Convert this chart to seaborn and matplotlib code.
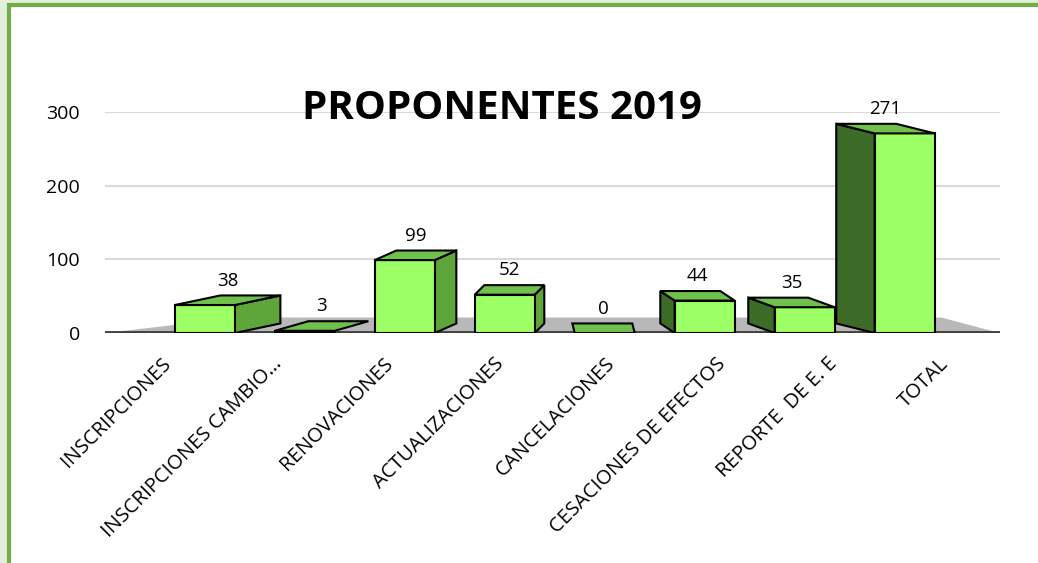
import matplotlib
matplotlib.use("Agg")
import matplotlib.pyplot as plt
from matplotlib.patches import Polygon, Rectangle
from matplotlib.transforms import ScaledTranslation
import seaborn as sns
import pandas as pd

# datos del grafico
categorias = ["INSCRIPCIONES", "INSCRIPCIONES CAMBIO…", "RENOVACIONES",
              "ACTUALIZACIONES", "CANCELACIONES", "CESACIONES DE EFECTOS",
              "REPORTE  DE E. E", "TOTAL"]
valores = [38, 3, 99, 52, 0, 44, 35, 271]
titulo = "PROPONENTES 2019"

df = pd.DataFrame({"categoria": categorias, "valor": valores})

sns.set_theme(style="white")
plt.rcParams["font.family"] = ["Open Sans", "DejaVu Sans"]

fig = plt.figure(figsize=(10.38, 5.63), dpi=100)
# marco verde del documento
fig.patches.append(Rectangle((0, 0), 1, 1, transform=fig.transFigure,
                             facecolor="#E2EFDA", edgecolor="none", zorder=-3))
fig.patches.append(Rectangle((0.0087, -0.1), 1.1, 1.091, transform=fig.transFigure,
                             facecolor="white", edgecolor="#70AD47", lw=3, zorder=-2))

ax = fig.add_axes([0.101, 0.4085, 0.862, 0.3925])
ax.set_facecolor("none")

frente = "#9CFF66"
arriba = "#70C04C"
lado_der = "#5EA63A"
lado_izq = "#3D6B28"

sns.barplot(data=df, x="categoria", y="valor", color=frente, width=0.6,
            edgecolor="black", linewidth=1.5, saturation=1, ax=ax, zorder=3)

ax.set_xlim(-1, 7.95)
ax.set_ylim(0, 300)
ax.set_yticks([0, 100, 200, 300])
ax.yaxis.grid(True, color="#D9D9D9", lw=1.5)
ax.set_axisbelow(True)
for s in ax.spines.values():
    s.set_visible(False)
ax.set_xlabel("")
ax.set_ylabel("")

# piso gris
piso = Polygon([(0, 0), (1, 0), (0.935, 0.07), (0.15, 0.07)], closed=True,
               transform=ax.transAxes, facecolor="#B8B8B8", edgecolor="none", zorder=1.5)
ax.add_patch(piso)
ax.axhline(0, color="#404040", lw=3.5, zorder=2)

# caras laterales y superiores (efecto 3D)
dy = 13
for i, p in enumerate(ax.patches[:len(valores)]):
    x0, w, h = p.get_x(), p.get_width(), p.get_height()
    dx = -0.12 * (i - 3.8)
    top = [(x0, h), (x0 + w, h), (x0 + w + dx, h + dy), (x0 + dx, h + dy)]
    ax.add_patch(Polygon(top, closed=True, facecolor=arriba, edgecolor="black",
                         lw=1.5, zorder=4))
    if h > 4:
        if dx > 0:
            side = [(x0 + w, 0), (x0 + w + dx, dy), (x0 + w + dx, h + dy), (x0 + w, h)]
            col = lado_der
        else:
            side = [(x0, 0), (x0 + dx, dy), (x0 + dx, h + dy), (x0, h)]
            col = lado_izq
        ax.add_patch(Polygon(side, closed=True, facecolor=col, edgecolor="black",
                             lw=1.5, zorder=2.5))
    ax.text(x0 + w / 2 + dx / 2, h + dy + 8, str(valores[i]), ha="center",
            va="bottom", fontsize=13.5, color="black", zorder=5)

ax.tick_params(axis="y", length=0, pad=18, labelsize=14, labelcolor="black")
ax.tick_params(axis="x", length=0, pad=15, labelsize=14.5, labelcolor="black")
for i, lab in enumerate(ax.get_xticklabels()):
    lab.set_rotation(45)
    lab.set_ha("right")
    lab.set_rotation_mode("anchor")
    off = (11 * (i - 3.5) - 5) / 100
    lab.set_transform(lab.get_transform() + ScaledTranslation(off, 0, fig.dpi_scale_trans))

fig.text(0.484, 0.808, titulo, ha="center", va="center", fontsize=29,
         fontweight="bold", color="black")

fig.savefig("out.png", dpi=100)
